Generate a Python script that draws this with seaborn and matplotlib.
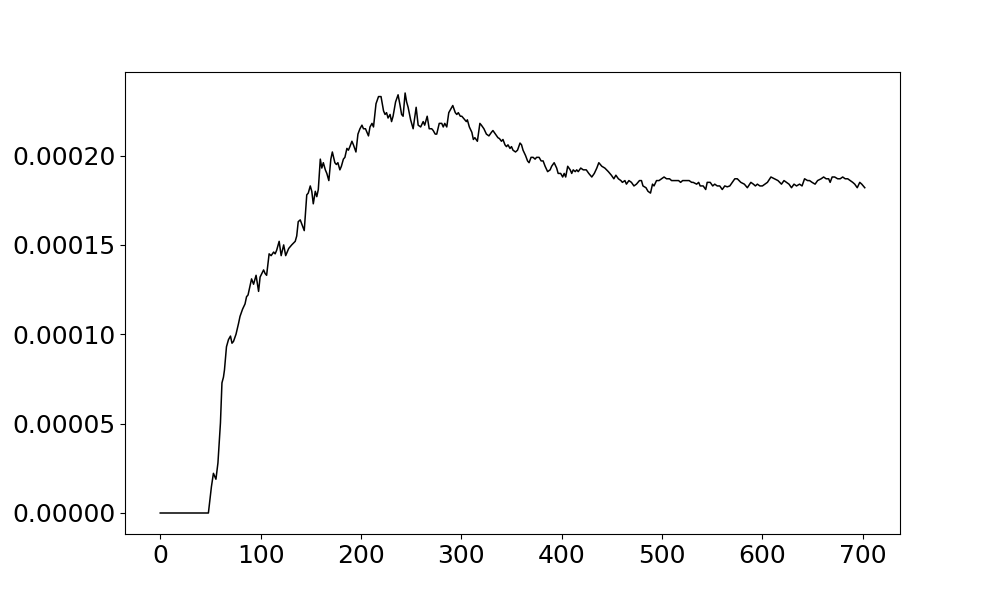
import numpy as np
import matplotlib
matplotlib.use("Agg")
import matplotlib.pyplot as plt
import seaborn as sns

# values (y in units of 1e-5)
steps = [0, 48, 51, 53, 55.5, 57.5, 60, 61.5, 63, 64, 66, 68, 70, 71.5, 73, 75.5, 78, 79.5, 82, 84.5,
         86, 87.5, 89.5, 91, 93, 95.5, 98, 99.5, 103, 104.5, 106, 108.5, 110.5, 113, 114.5, 116, 118.5, 120.5, 123, 125,
         128, 131, 134.5, 136, 137.5, 139.5, 141.5, 143.5, 146, 147.5, 149.5, 151, 152.5, 154.5, 156, 157.5, 159.5, 161, 162.5, 164.5,
         166, 168, 170, 171.5, 174, 175.5, 177, 179, 180.5, 182.5, 184, 186, 187.5, 189, 191, 192.5, 195, 197, 199, 201,
         202.5, 204.5, 207.5, 209, 211, 212.5, 215, 217.5, 220, 222.5, 224, 225.5, 227, 229, 230.5, 232, 234.5, 237, 239, 240.5,
         242, 244, 245.5, 247, 249.5, 252, 255, 257, 259.5, 262, 263.5, 266, 268, 270.5, 272, 274, 275.5, 278, 280.5, 282,
         283.5, 285.5, 287.5, 289.5, 291.5, 294, 295.5, 297, 299, 300.5, 302, 305, 306, 308, 310.5, 312, 313.5, 316, 318.5, 320,
         322.5, 325, 327.5, 330, 331.5, 334, 336.5, 338, 340, 341.5, 343.5, 345, 346.5, 348.5, 350, 351.5, 354, 356, 358.5, 360,
         361.5, 364, 366, 367.5, 369.5, 371.5, 373.5, 375, 377.5, 379.5, 381.5, 383.5, 386, 388.5, 390, 392.5, 395, 396.5, 399, 401,
         402.5, 404, 406, 408.5, 410, 411.5, 413.5, 415, 416.5, 419, 421.5, 423, 424.5, 427, 430, 432.5, 435, 437, 440, 443,
         446.5, 449.5, 452, 454, 456.5, 459, 460.5, 463, 464.5, 467, 469.5, 472, 474.5, 477.5, 479.5, 481, 484, 486, 488.5, 490.5,
         492, 494.5, 497, 499.5, 502, 504.5, 507.5, 509.5, 512, 514.5, 516.5, 518.5, 520.5, 523, 524.5, 527, 529.5, 531, 534.5, 536.5,
         538, 541, 543.5, 545, 548, 550.5, 552.5, 555, 557.5, 560, 562.5, 565, 567.5, 570, 572.5, 575, 578.5, 582, 585, 588.5,
         591, 593, 595, 597.5, 600, 602.5, 605, 608.5, 612, 615.5, 619, 621.5, 624, 626.5, 629, 631.5, 634, 637, 639.5, 642,
         645, 647, 649.5, 652.5, 655, 658.5, 661, 663.5, 666, 667.5, 669.5, 672, 675, 677.5, 680, 682.5, 685, 687.5, 690, 692,
         694.5, 697, 699, 702]
vals_e5 = [0, 0, 1.47, 2.22, 1.89, 2.8, 5.04, 7.28, 7.6, 8.0, 9.3, 9.7, 9.9, 9.5, 9.6, 10.0, 10.6, 11.0, 11.4, 11.7,
           12.1, 12.2, 12.7, 13.1, 12.8, 13.3, 12.4, 13.2, 13.6, 13.4, 13.3, 14.5, 14.4, 14.6, 14.5, 14.7, 15.2, 14.4, 15.0, 14.4,
           14.8, 15.0, 15.2, 15.5, 16.3, 16.4, 16.1, 15.8, 17.8, 17.9, 18.3, 18.0, 17.3, 18.0, 17.7, 18.1, 19.8, 19.3, 19.6, 19.2,
           19.0, 18.6, 19.8, 20.2, 19.6, 19.5, 19.6, 19.2, 19.4, 19.8, 19.9, 20.4, 20.3, 20.5, 20.8, 20.6, 20.2, 21.2, 21.5, 21.7,
           21.5, 21.5, 21.1, 21.6, 21.8, 21.6, 22.9, 23.3, 23.3, 22.5, 22.3, 22.4, 22.1, 22.3, 21.9, 22.2, 23.0, 23.4, 22.8, 22.3,
           22.2, 23.5, 23.0, 22.7, 22.0, 21.5, 22.7, 21.7, 21.6, 21.9, 21.7, 22.2, 21.5, 21.5, 21.4, 21.2, 21.2, 21.8, 21.8, 21.6,
           21.8, 21.6, 22.4, 22.6, 22.8, 22.4, 22.3, 22.4, 22.2, 22.2, 22.1, 21.9, 22.0, 21.6, 21.3, 20.9, 21.0, 20.8, 21.8, 21.7,
           21.5, 21.2, 21.1, 21.3, 21.4, 21.2, 21.0, 20.95, 20.8, 20.9, 20.6, 20.5, 20.6, 20.4, 20.5, 20.3, 20.2, 20.3, 20.7, 20.6,
           20.3, 20.0, 19.7, 19.6, 19.9, 19.9, 19.8, 19.9, 19.9, 19.7, 19.7, 19.4, 19.1, 19.2, 19.4, 19.6, 19.3, 19.0, 19.0, 18.8,
           19.0, 18.8, 19.4, 19.2, 19.0, 19.2, 19.1, 19.2, 19.1, 19.3, 19.2, 19.2, 19.2, 19.0, 18.8, 19.0, 19.3, 19.6, 19.4, 19.3,
           19.1, 18.9, 18.7, 18.9, 18.7, 18.6, 18.5, 18.6, 18.4, 18.6, 18.5, 18.3, 18.4, 18.6, 18.6, 18.3, 18.2, 18.0, 17.9, 18.4,
           18.3, 18.6, 18.6, 18.7, 18.8, 18.7, 18.7, 18.6, 18.6, 18.6, 18.6, 18.5, 18.6, 18.6, 18.6, 18.6, 18.5, 18.5, 18.4, 18.5,
           18.3, 18.3, 18.1, 18.5, 18.5, 18.3, 18.4, 18.3, 18.3, 18.1, 18.3, 18.25, 18.3, 18.5, 18.7, 18.7, 18.5, 18.4, 18.2, 18.5,
           18.4, 18.3, 18.4, 18.3, 18.3, 18.4, 18.5, 18.8, 18.7, 18.6, 18.4, 18.6, 18.5, 18.4, 18.2, 18.4, 18.3, 18.4, 18.3, 18.7,
           18.6, 18.6, 18.5, 18.4, 18.6, 18.7, 18.8, 18.7, 18.7, 18.5, 18.8, 18.8, 18.7, 18.7, 18.8, 18.7, 18.7, 18.6, 18.5, 18.4,
           18.2, 18.5, 18.4, 18.2]

vals = np.array(vals_e5) * 1e-5

fig, ax = plt.subplots(figsize=(10, 6), dpi=100)
sns.lineplot(x=steps, y=vals, color="black", linewidth=1.1, estimator=None, ax=ax)
ax.tick_params(labelsize=18)
ax.set_xlabel("")
ax.set_ylabel("")
plt.savefig("out.png")
